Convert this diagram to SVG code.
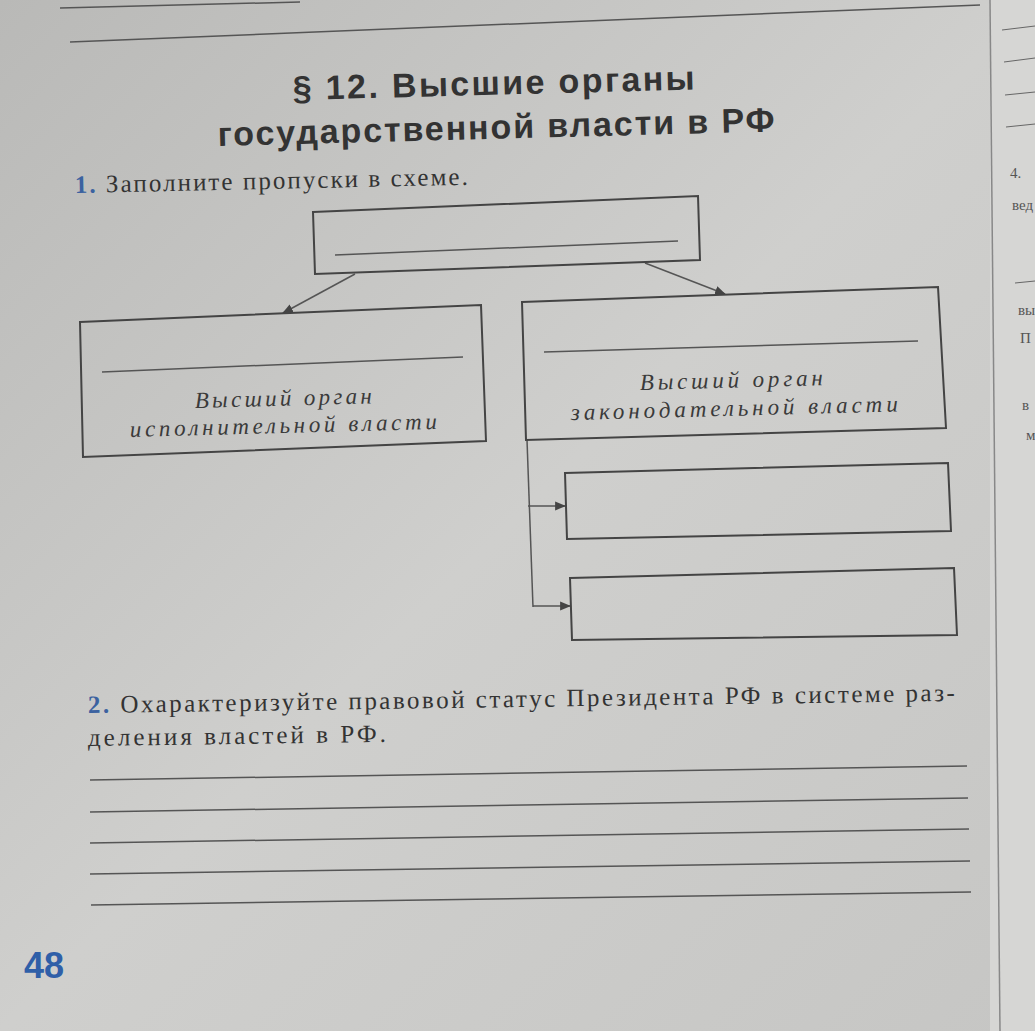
<svg xmlns="http://www.w3.org/2000/svg" width="1035" height="1031" viewBox="0 0 1035 1031">
<defs>
<linearGradient id="bg" x1="0" y1="0" x2="1" y2="1">
<stop offset="0" stop-color="#b9b9b7"/><stop offset="0.5" stop-color="#cfcfcd"/><stop offset="1" stop-color="#c6c6c4"/>
</linearGradient>
<marker id="ah" viewBox="0 0 10 10" refX="9" refY="5" markerWidth="11" markerHeight="11" orient="auto" markerUnits="userSpaceOnUse"><path d="M0,1 L10,5 L0,9 z" fill="#444"/></marker>
<style>
.box{fill:none;stroke:#444;stroke-width:2}
.ln{stroke:#555;stroke-width:1.5;fill:none}
.it{font-family:"Liberation Serif",serif;font-style:italic;font-size:23px;fill:#3a3a3a}
.tx{font-family:"Liberation Serif",serif;font-size:25px;fill:#333}
.ti{font-family:"Liberation Sans",Arial,sans-serif;font-weight:bold;font-size:34px;fill:#333}
.num{fill:#3b62a0;font-weight:bold}
.side{font-family:"Liberation Serif",serif;font-size:15px;fill:#555}
</style>
</defs>
<rect width="1035" height="1031" fill="url(#bg)"/>
<rect x="990" y="0" width="45" height="1031" fill="#d6d6d4"/>
<line x1="990" y1="0" x2="1000" y2="1031" stroke="#888" stroke-width="1.5"/>
<line x1="60" y1="8" x2="300" y2="2" class="ln"/>
<line x1="70" y1="42" x2="980" y2="5" class="ln"/>
<text class="side" x="1010" y="178" fill="#3b62a0">4.</text>
<text class="side" x="1012" y="210">вед</text>
<text class="side" x="1018" y="315">вы</text>
<text class="side" x="1020" y="343">П</text>
<text class="side" x="1022" y="410">в</text>
<text class="side" x="1026" y="440">м</text>
<g stroke="#666" stroke-width="1"><line x1="1002" y1="30" x2="1035" y2="26"/><line x1="1004" y1="62" x2="1035" y2="58"/><line x1="1005" y1="95" x2="1035" y2="92"/><line x1="1006" y1="127" x2="1035" y2="124"/><line x1="1015" y1="283" x2="1035" y2="281"/></g>
<text class="ti" x="293" y="100" textLength="402" lengthAdjust="spacing" transform="rotate(-1.5 293 100)">§ 12. Высшие органы</text>
<text class="ti" x="218" y="146" textLength="557" lengthAdjust="spacing" transform="rotate(-1.5 218 146)">государственной власти в РФ</text>
<text class="tx" x="75" y="193" textLength="393" lengthAdjust="spacing" transform="rotate(-1.2 75 193)"><tspan class="num">1.</tspan> Заполните пропуски в схеме.</text>
<g id="connectors">
<line x1="355" y1="274" x2="283" y2="313" class="ln" marker-end="url(#ah)"/>
<line x1="645" y1="263" x2="725" y2="294" class="ln" marker-end="url(#ah)"/>
<line x1="527" y1="440" x2="533" y2="607" class="ln"/>
<line x1="528" y1="506" x2="565" y2="506" class="ln" marker-end="url(#ah)"/>
<line x1="533" y1="606" x2="570" y2="606" class="ln" marker-end="url(#ah)"/>
</g>
<g id="top"><polygon class="box" points="313,212 698,196 700,260 315,274"/><line x1="335" y1="255" x2="678" y2="241" class="ln"/></g>
<g id="exec"><polygon class="box" points="80,322 481,305 486,441 83,457"/><line x1="102" y1="372" x2="463" y2="357" class="ln"/>
<text class="it" x="195" y="408" textLength="177" lengthAdjust="spacing" transform="rotate(-1.5 195 408)">Высший орган</text>
<text class="it" x="130" y="437" textLength="307" lengthAdjust="spacing" transform="rotate(-1.5 130 437)">исполнительной власти</text></g>
<g id="leg"><polygon class="box" points="522,302 938,287 946,428 526,440"/><line x1="544" y1="352" x2="918" y2="341" class="ln"/>
<text class="it" x="640" y="390" textLength="183" lengthAdjust="spacing" transform="rotate(-1.5 640 390)">Высший орган</text>
<text class="it" x="571" y="420" textLength="327" lengthAdjust="spacing" transform="rotate(-1.5 571 420)">законодательной власти</text></g>
<g id="chamberA"><polygon class="box" points="565,473 948,463 951,531 567,539"/></g>
<g id="chamberB"><polygon class="box" points="570,578 954,568 957,635 572,640"/></g>
<text class="tx" x="88" y="713" textLength="867" lengthAdjust="spacing" transform="rotate(-0.8 88 713)"><tspan class="num">2.</tspan> Охарактеризуйте правовой статус Президента РФ в системе раз-</text>
<text class="tx" x="88" y="746" textLength="298" lengthAdjust="spacing" transform="rotate(-0.8 88 746)">деления властей в РФ.</text>
<g class="ln">
<line x1="90" y1="780" x2="967" y2="766"/>
<line x1="90" y1="812" x2="968" y2="798"/>
<line x1="90" y1="843" x2="969" y2="829"/>
<line x1="90" y1="874" x2="970" y2="861"/>
<line x1="91" y1="905" x2="971" y2="892"/>
</g>
<text x="24" y="978" font-family="Liberation Sans,Arial,sans-serif" font-weight="bold" font-size="36" fill="#2f5fa8">48</text>
</svg>
